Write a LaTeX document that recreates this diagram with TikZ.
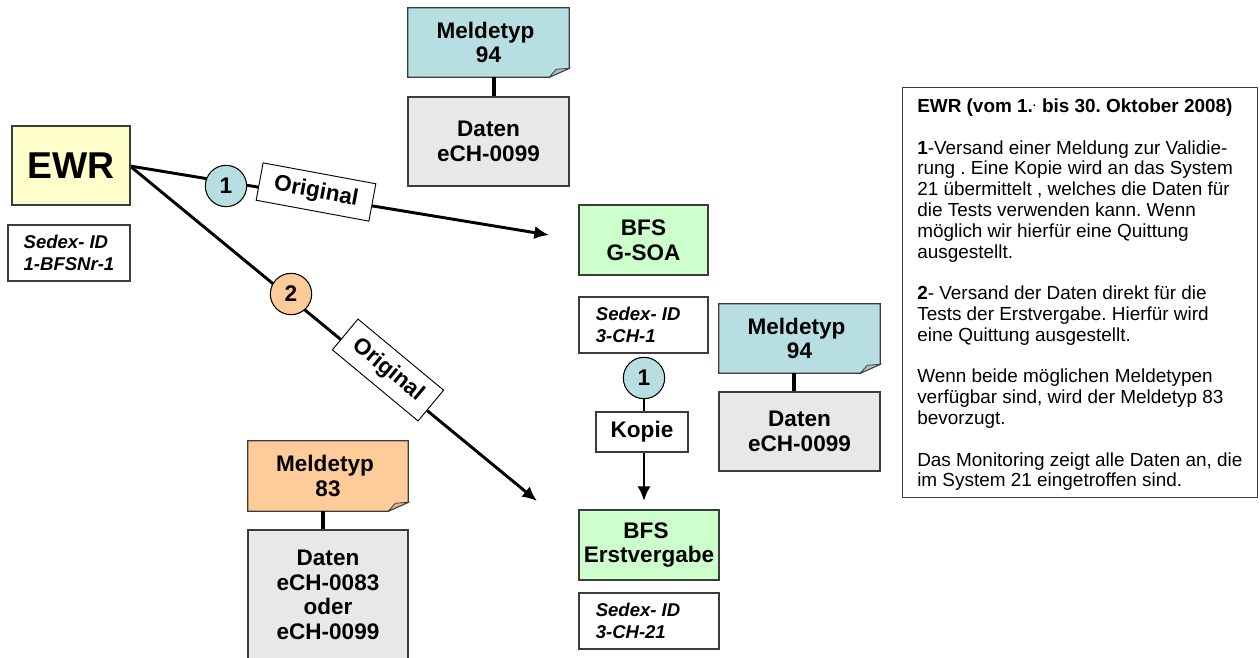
\documentclass[tikz,border=0pt]{standalone}
\usepackage{fontspec}
\setmainfont{Liberation Sans}
\usetikzlibrary{arrows.meta,backgrounds}
\definecolor{notecyan}{RGB}{183,223,226}
\definecolor{noteorange}{RGB}{255,204,153}
\definecolor{datagray}{RGB}{232,232,232}
\definecolor{boxyellow}{RGB}{255,255,204}
\definecolor{boxgreen}{RGB}{204,255,204}
\definecolor{edgegray}{RGB}{60,60,60}
\frenchspacing
\newcommand\pxbox[7][]{%
  \pgfmathsetmacro\cxx{(#3+#5)/2}\pgfmathsetmacro\cyy{(#4+#6)/2}%
  \pgfmathsetmacro\wdd{(#5-#3)*0.75}\pgfmathsetmacro\htt{(#6-#4)*0.75}%
  \node[#1,minimum width=\wdd pt,minimum height=\htt pt] (#2) at (\cxx,\cyy) {#7};}
% note: text node plus folded paper on the background layer
\newcommand\pxnote[7]{%
  \pxbox[notetext]{#2}{#3}{#4}{#5}{#6}{#7}
  \begin{pgfonlayer}{background}
    \draw[boxline,fill=#1] (#2.north west) -- (#2.north east) -- ([yshift=6.75pt]#2.south east)
      -- ([xshift=-15pt]#2.south east) -- (#2.south west) -- cycle;
    \draw[boxline,line width=0.6pt,fill=#1!70!gray] ([yshift=6.75pt]#2.south east) -- ([xshift=-9.75pt,yshift=6pt]#2.south east)
      -- ([xshift=-15pt]#2.south east) -- cycle;
  \end{pgfonlayer}}
\tikzset{
  boxline/.style={draw=edgegray,line width=0.9pt},
  base/.style={inner sep=0pt,align=center,font=\fontsize{16.9}{18.4}\selectfont\bfseries},
  notetext/.style={base},
  plain/.style={base,boxline,fill=white},
  data/.style={base,boxline,fill=datagray},
  green/.style={base,boxline,fill=boxgreen},
  sedex/.style={plain,align=left,font=\fontsize{13.9}{16.2}\selectfont\bfseries\itshape},
  num/.style={circle,draw=black,line width=0.8pt,minimum size=31pt,inner sep=0pt,font=\fontsize{17}{20}\selectfont\bfseries},
  tag/.style={draw=black,line width=0.7pt,fill=white,inner sep=0pt,font=\fontsize{16.9}{20}\selectfont\bfseries},
  link/.style={draw=black,line width=3pt},
  flow/.style={draw=black,line width=2.2pt,-{Latex[length=11pt,width=10pt]}},
}
\begin{document}
\begin{tikzpicture}[x=0.75pt,y=-0.75pt]
\useasboundingbox (0,0) rectangle (1260,657);
\pxbox[base,boxline,fill=boxyellow,font=\fontsize{28}{30}\selectfont\bfseries]{ewr}{12}{126}{130}{205}{EWR}
\pxbox[sedex]{sedexa}{8}{225}{130}{281}{Sedex- ID\\1-BFSNr-1}
\pxnote{notecyan}{notea}{408}{8}{569}{77}{Meldetyp\hspace*{4.5pt}\\94}
\pxbox[data]{dataa}{408}{97}{569}{186}{Daten\\eCH-0099}
\pxbox[green]{soa}{579}{205}{708}{275}{BFS\\G-SOA}
\pxbox[sedex]{sedexb}{579}{297}{708}{353}{Sedex- ID\hspace*{8pt}\\3-CH-1}
\pxnote{notecyan}{noteb}{719}{304}{880}{373}{Meldetyp\hspace*{4.5pt}\\94}
\pxbox[data]{datab}{719}{392}{880}{471}{Daten\\eCH-0099}
\pxbox[green]{erst}{579}{510}{719}{580}{BFS\hspace*{4.5pt}\\Erstvergabe}
\pxbox[sedex]{sedexc}{579}{593}{719}{649}{Sedex- ID\hspace*{16.5pt}\\3-CH-21}
\pxnote{noteorange}{notec}{248}{441}{408}{511}{Meldetyp\hspace*{4.5pt}\\83}
\pxbox[data]{datac}{248}{530}{408}{660}{Daten\\eCH-0083\\oder\\eCH-0099}
\node[num,fill=notecyan] (ca) at (226,186) {1};
\node[num,fill=noteorange] (cb) at (291,294) {2};
\node[num,fill=notecyan] (cc) at (644,378) {1};
\node[tag,rotate=-10.5,minimum width=86pt,minimum height=28.5pt] (oa) at (316,192) {Original};
\node[tag,rotate=-39.7,minimum width=83.5pt,minimum height=30pt] (ob) at (388,370) {Original};
\pxbox[plain]{kopie}{596}{412}{688}{452}{Kopie}
\node[draw=edgegray,line width=0.9pt,fill=white,anchor=north west,inner sep=0pt,
  minimum width=266pt,minimum height=307.5pt] (txt) at (902,87) {};
\node[anchor=north west,inner sep=0pt,align=left,font=\fontsize{14.2}{15.6}\selectfont] (txtbody) at (917,98.5) {%
\textbf{EWR (vom 1.\raisebox{2pt}{\scalebox{0.6}{·}} bis 30. Oktober 2008)}\\[15.6pt]
\textbf{1}-Versand einer Meldung zur Validie-\\
rung . Eine Kopie wird an das System\\
21 übermittelt , welches die Daten für\\
die Tests verwenden kann. Wenn\\
möglich wir hierfür eine Quittung\\
ausgestellt.\\[15.6pt]
\textbf{2}- Versand der Daten direkt für die\\
Tests der Erstvergabe. Hierfür wird\\
eine Quittung ausgestellt.\\[15.6pt]
Wenn beide möglichen Meldetypen\\
verfügbar sind, wird der Meldetyp 83\\
bevorzugt.\\[15.6pt]
Das Monitoring zeigt alle Daten an, die\\
im System 21 eingetroffen sind.};
\coordinate (ewrout) at (130,166);
\coordinate (enda) at (549,235);
\coordinate (endb) at (537,501);
\coordinate (endc) at (644,501);
\begin{pgfonlayer}{background}
\draw[link] (notea.south -| 494,0) -- (494,97 |- dataa.north);
\draw[link] (noteb.south -| 794,0) -- (794,392 |- datab.north);
\draw[link] (notec.south -| 323,0) -- (323,530 |- datac.north);
\draw[flow] (ewrout) -- (enda);
\draw[flow] (ewrout) -- (endb);
\draw[flow] (cc) -- (endc);
\end{pgfonlayer}
\end{tikzpicture}
\end{document}
